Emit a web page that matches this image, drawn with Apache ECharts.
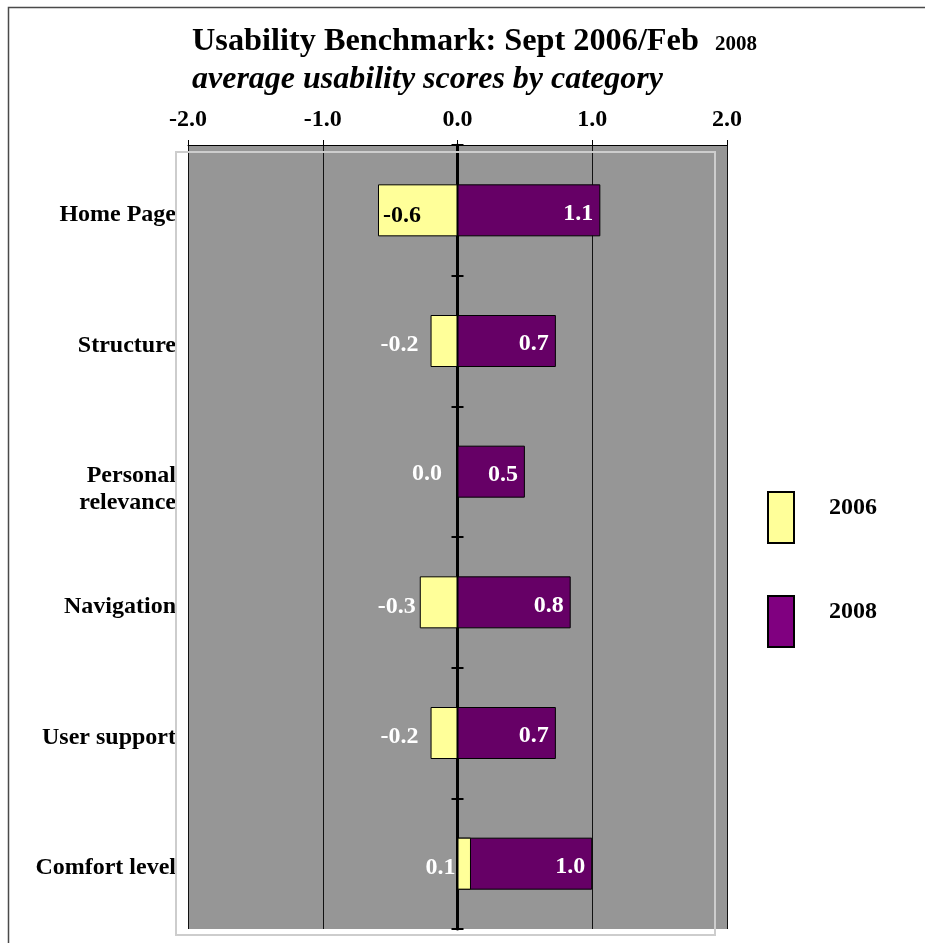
<!DOCTYPE html>
<html>
<head>
<meta charset="utf-8">
<script src="https://cdn.jsdelivr.net/npm/echarts@6/dist/echarts.min.js"></script>
<style>
  html, body { margin: 0; padding: 0; background: #fff; }
  #chart { width: 925px; height: 943px; }
</style>
</head>
<body>
<div id="chart"></div>
<script>
// Usability categories, top to bottom
const categories = ['Home Page', 'Structure', 'Personal\nrelevance', 'Navigation', 'User support', 'Comfort level'];
// Average usability scores
const scores2006 = [-0.59, -0.20, 0.00, -0.28, -0.20, 0.10];
const scores2008 = [1.06, 0.73, 0.50, 0.84, 0.73, 1.00];
// Value axis ticks
const xTicks = [-2.0, -1.0, 0.0, 1.0, 2.0];
const seriesNames = ['2006', '2008'];

const FONT = "'Liberation Serif', 'Times New Roman', Times, serif";
const fmt = v => Number(v).toFixed(1);
const boldText = (size, extra) => Object.assign(
  { fontFamily: FONT, fontSize: size, fontWeight: 'bold', color: '#000' }, extra || {});

// Label placement for the 2006 bars
const place2006 = [
  { position: 'insideLeft', distance: 5, color: '#000', offset: [0, 5] },
  { position: 'left', distance: 12, color: '#fff', offset: [0, 4] },
  { position: 'left', distance: 15, color: '#fff', offset: [0, 2] },
  { position: 'left', distance: 4, color: '#fff', offset: [0, 4] },
  { position: 'left', distance: 12, color: '#fff', offset: [0, 4] },
  { position: 'left', distance: 2, color: '#fff', offset: [0, 4] }
];

// Category names sit a little below the band centre: an invisible spacer line
// above the name pushes the centred block down.
const categoryLabel = value => {
  const lines = String(value).split('\n');
  const spacer = lines.length === 1 ? '{s1| }' : '{s2| }';
  return [spacer].concat(lines.map(s => '{c|' + s + '}')).join('\n');
};

const chart = echarts.init(document.getElementById('chart'), null, { renderer: 'canvas' });

const option = {
  backgroundColor: '#ffffff',
  animation: false,
  title: {
    left: 192,
    top: 26,
    padding: 0,
    itemGap: 6,
    text: '{a|Usability Benchmark: Sept 2006/Feb}{b|2008}',
    textStyle: {
      rich: {
        a: boldText(32.3, { lineHeight: 32 }),
        b: boldText(21, { lineHeight: 21, padding: [5, 0, 0, 16] })
      }
    },
    subtext: 'average usability scores by category',
    subtextStyle: boldText(32, { fontStyle: 'italic', lineHeight: 32 })
  },
  legend: {
    orient: 'vertical',
    left: 767,
    top: 491,
    padding: 0,
    icon: 'rect',
    itemWidth: 26,
    itemHeight: 51,
    itemGap: 51,
    data: [
      { name: seriesNames[0] },
      { name: seriesNames[1], itemStyle: { color: '#800080' } }
    ],
    formatter: name => '{t|' + name + '}',
    textStyle: {
      rich: {
        t: boldText(24, { lineHeight: 24, padding: [0, 0, 19, 30] })
      }
    }
  },
  grid: {
    left: 188,
    top: 145,
    width: 539,
    height: 784,
    show: true,
    backgroundColor: '#969696',
    borderWidth: 0
  },
  xAxis: {
    type: 'value',
    position: 'top',
    min: xTicks[0],
    max: xTicks[xTicks.length - 1],
    interval: xTicks[1] - xTicks[0],
    axisLine: { show: true, onZero: false, lineStyle: { color: '#000', width: 1 } },
    axisTick: { show: true, length: 5, lineStyle: { color: '#000', width: 1 } },
    axisLabel: Object.assign(boldText(24), { margin: 13, formatter: v => fmt(v) }),
    splitLine: { show: true, lineStyle: { color: '#111', width: 1 } }
  },
  yAxis: [
    {
      // zero line with left-pointing ticks at category boundaries
      type: 'category',
      inverse: true,
      data: categories,
      position: 'left',
      axisLine: { show: true, onZero: true, onZeroAxisIndex: 0, lineStyle: { color: '#000', width: 3 } },
      axisTick: { show: true, inside: false, length: 6, lineStyle: { color: '#000', width: 2 } },
      axisLabel: { show: false },
      splitLine: { show: false }
    },
    {
      // right-pointing half of the boundary ticks
      type: 'category',
      inverse: true,
      data: categories,
      position: 'left',
      axisLine: { show: false, onZero: true, onZeroAxisIndex: 0 },
      axisTick: { show: true, inside: true, length: 6, lineStyle: { color: '#000', width: 2 } },
      axisLabel: { show: false },
      splitLine: { show: false }
    },
    {
      // category names at the left of the plot
      type: 'category',
      inverse: true,
      data: categories,
      position: 'left',
      axisLine: { show: false, onZero: false },
      axisTick: { show: false },
      axisLabel: Object.assign(boldText(24), {
        margin: 12,
        align: 'right',
        formatter: categoryLabel,
        rich: {
          s1: { fontSize: 1, lineHeight: 9 },
          s2: { fontSize: 1, lineHeight: 36 },
          c: boldText(24, { lineHeight: 27 })
        }
      }),
      splitLine: { show: false }
    }
  ],
  graphic: [
    {
      type: 'polyline',
      silent: true,
      z: 10,
      shape: { points: [[8.5, 943], [8.5, 7.5], [925, 7.5]] },
      style: { stroke: '#4a4a4a', lineWidth: 1.5, fill: null }
    },
    {
      type: 'rect',
      silent: true,
      z: 1,
      shape: { x: 176, y: 152, width: 539, height: 783 },
      style: { stroke: '#cdcdcd', lineWidth: 2, fill: null }
    }
  ],
  series: [
    {
      name: seriesNames[1],
      type: 'bar',
      yAxisIndex: 0,
      barWidth: 52,
      barGap: '-100%',
      itemStyle: { color: '#660066', borderColor: '#000', borderWidth: 1 },
      label: Object.assign(boldText(24, { color: '#fff' }), {
        show: true,
        position: 'insideRight',
        distance: 7,
        offset: [0, 3],
        formatter: p => fmt(p.value)
      }),
      data: scores2008
    },
    {
      name: seriesNames[0],
      type: 'bar',
      yAxisIndex: 0,
      barWidth: 52,
      barGap: '-100%',
      itemStyle: { color: '#ffff99', borderColor: '#000', borderWidth: 1 },
      label: Object.assign(boldText(24), {
        show: true,
        formatter: p => fmt(p.value)
      }),
      data: scores2006.map((v, i) => ({
        value: v,
        label: place2006[i]
      }))
    }
  ]
};

chart.setOption(option);
</script>
</body>
</html>
